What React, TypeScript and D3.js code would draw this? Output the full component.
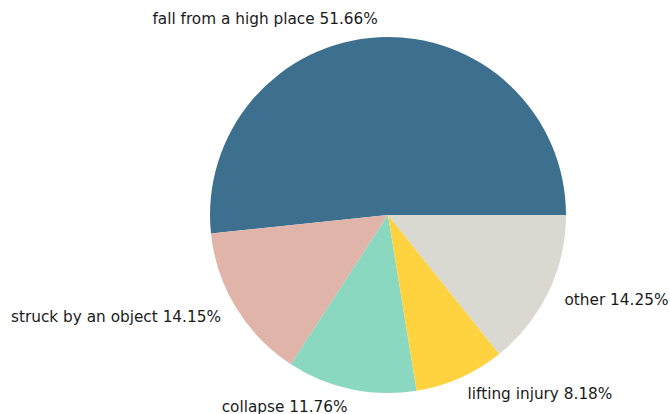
import { useRef, useEffect } from "react";
import * as d3 from "d3";

const causes = ["fall from a high place", "struck by an object", "collapse", "lifting injury", "other"];
const shares = [51.66, 14.15, 11.76, 8.18, 14.25];
const colors = ["#3d708f", "#e0b4a8", "#8ad8bf", "#ffd23f", "#d9d9d1"];

const width = 670;
const height = 414;
const cx = 388;
const cy = 215;
const radius = 178;

const App = () => {
  const svgRef = useRef<SVGSVGElement>(null);

  useEffect(() => {
    const root = d3.select(svgRef.current);
    root.selectAll("*").remove();
    const svg = root.append("g").attr("transform", `translate(${cx},${cy})`);

    const data = causes.map((c, i) => ({ cause: c, share: shares[i], color: colors[i] }));

    // matplotlib style: start at 3 o'clock, go counterclockwise
    const pie = d3
      .pie<{ cause: string; share: number; color: string }>()
      .value((d) => d.share)
      .sort(null)
      .startAngle(Math.PI / 2)
      .endAngle(Math.PI / 2 - 2 * Math.PI);

    const arc = d3.arc<d3.PieArcDatum<{ cause: string; share: number; color: string }>>()
      .innerRadius(0)
      .outerRadius(radius);

    const arcs = pie(data);

    svg
      .selectAll("path")
      .data(arcs)
      .enter()
      .append("path")
      .attr("d", arc)
      .attr("fill", (d) => d.data.color);

    svg
      .selectAll("text")
      .data(arcs)
      .enter()
      .append("text")
      .each(function (d) {
        const mid = (d.startAngle + d.endAngle) / 2;
        const x = Math.sin(mid) * radius * 1.1;
        const y = -Math.cos(mid) * radius * 1.1;
        d3.select(this)
          .attr("x", x)
          .attr("y", y)
          .attr("text-anchor", x > 0 ? "start" : "end");
      })
      .attr("dominant-baseline", "central")
      .style("font-family", "DejaVu Sans")
      .style("font-size", "15.3px")
      .attr("fill", "#1a1a1a")
      .text((d) => `${d.data.cause} ${d.data.share.toFixed(2)}%`);
  }, []);

  return (
    <svg
      ref={svgRef}
      width={width}
      height={height}
      style={{ position: "absolute", left: 0, top: 0, background: "#fff" }}
    ></svg>
  );
};

export default App;
